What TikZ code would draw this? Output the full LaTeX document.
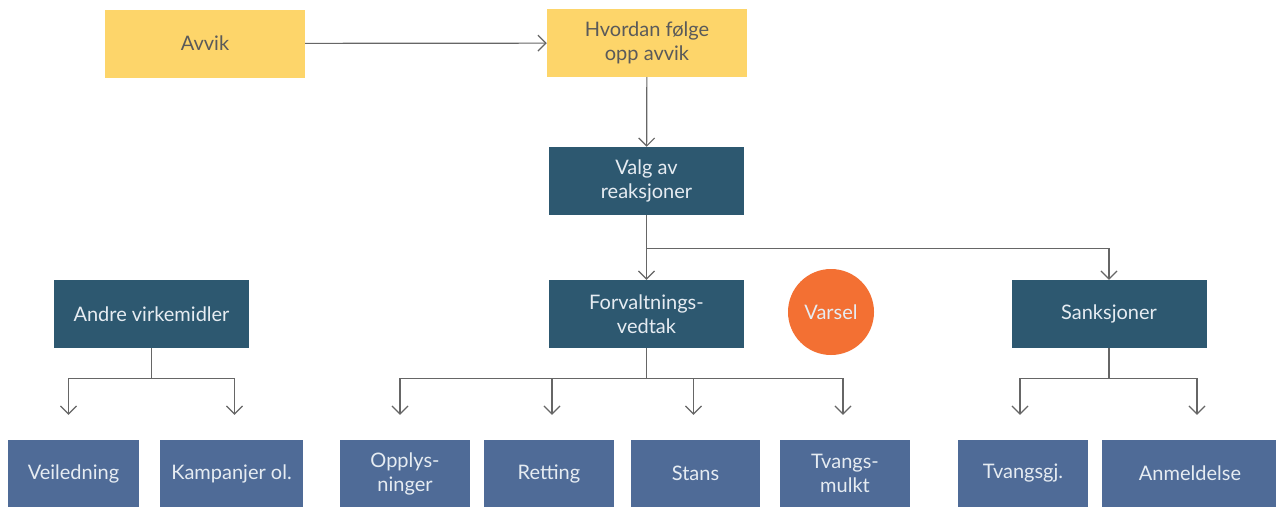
\documentclass[tikz,border=0pt]{standalone}
\usepackage{fontspec}
\setmainfont{Lato}
\usetikzlibrary{arrows.meta}
\definecolor{yel}{HTML}{FDD56A}
\definecolor{dark}{HTML}{2D5870}
\definecolor{mid}{HTML}{4F6B97}
\definecolor{org}{HTML}{F37033}
\definecolor{ln}{HTML}{666666}
\definecolor{ytxt}{HTML}{5A5A5A}
\definecolor{ltxt}{HTML}{E6ECF2}
\begin{document}
\begin{tikzpicture}[x=1pt,y=-1pt,
  base/.style={rectangle,inner sep=0pt,align=center,font=\fontsize{20}{24}\selectfont},
  ybox/.style={base,fill=yel,text=ytxt,minimum width=200pt,minimum height=68pt},
  dbox/.style={base,fill=dark,text=ltxt,minimum width=195pt,minimum height=68pt},
  lbox/.style={base,fill=mid,text=ltxt,minimum height=67pt},
  arr/.style={draw=ln,line width=1.2pt,-{Straight Barb[length=8pt,width=16pt,line width=1.2pt]}},
  ln/.style={draw=ln,line width=1.2pt}]
\useasboundingbox (0,0) rectangle (1276,507);
\fill[white] (0,0) rectangle (1276,507);
% top row
\node[ybox] (avvik) at (205,43.5) {Avvik};
\node[ybox] (hvordan) at (647,43) {Hvordan følge\\opp avvik};
% dark row
\node[dbox] (valg) at (646.5,181) {Valg av\\reaksjoner};
\node[dbox] (forv) at (646.5,314) {Forvaltnings-\\vedtak};
\node[dbox] (sank) at (1109,314) {Sanksjoner};
\node[dbox] (andre) at (151.5,314) {Andre virkemidler};
\node[circle,fill=org,text=ltxt,minimum size=86pt,inner sep=0pt,font=\fontsize{20}{24}\selectfont] (varsel) at (831,312) {Varsel};
% bottom row
\node[lbox,minimum width=131pt] (veil) at (73.5,473.5) {Veiledning};
\node[lbox,minimum width=143pt] (kamp) at (231.5,473.5) {Kampanjer ol.};
\node[lbox,minimum width=130pt] (opp) at (405,473.5) {Opplys-\\ninger};
\node[lbox,minimum width=130pt] (rett) at (549,473.5) {Retting};
\node[lbox,minimum width=129pt] (stans) at (695.5,473.5) {Stans};
\node[lbox,minimum width=130pt] (tvm) at (845,473.5) {Tvangs-\\mulkt};
\node[lbox,minimum width=130pt] (tvg) at (1023,473.5) {Tvangsgj.};
\node[lbox,minimum width=176pt] (anm) at (1190,473.5) {Anmeldelse};
% connectors
\draw[arr] (avvik) -- (hvordan);
\draw[arr] (hvordan) -- (valg);
\draw[ln] (valg.south) -- ++(0,33) coordinate (vb);
\draw[arr] (vb) -- (forv);
\draw[arr] (vb) -| (sank.north);
% Andre
\draw[ln] (andre.south) -- ++(0,30) coordinate (ab);
\draw[arr,shorten >=25pt] (ab) -| ([xshift=-5pt]veil.north);
\draw[arr,shorten >=25pt] (ab) -| ([xshift=3pt]kamp.north);
% Forvaltningsvedtak
\draw[ln] (forv.south) -- ++(0,30) coordinate (fb);
\draw[arr,shorten >=25pt] (fb) -| ([xshift=-5pt]opp.north);
\draw[arr,shorten >=25pt] (fb) -| ([xshift=3pt]rett.north);
\draw[arr,shorten >=25pt] (fb) -| ([xshift=-2pt]stans.north);
\draw[arr,shorten >=25pt] (fb) -| ([xshift=-2pt]tvm.north);
% Sanksjoner
\draw[ln] (sank.south) -- ++(0,30) coordinate (sb);
\draw[arr,shorten >=25pt] (sb) -| ([xshift=-3pt]tvg.north);
\draw[arr,shorten >=25pt] (sb) -| ([xshift=7pt]anm.north);
\end{tikzpicture}
\end{document}
